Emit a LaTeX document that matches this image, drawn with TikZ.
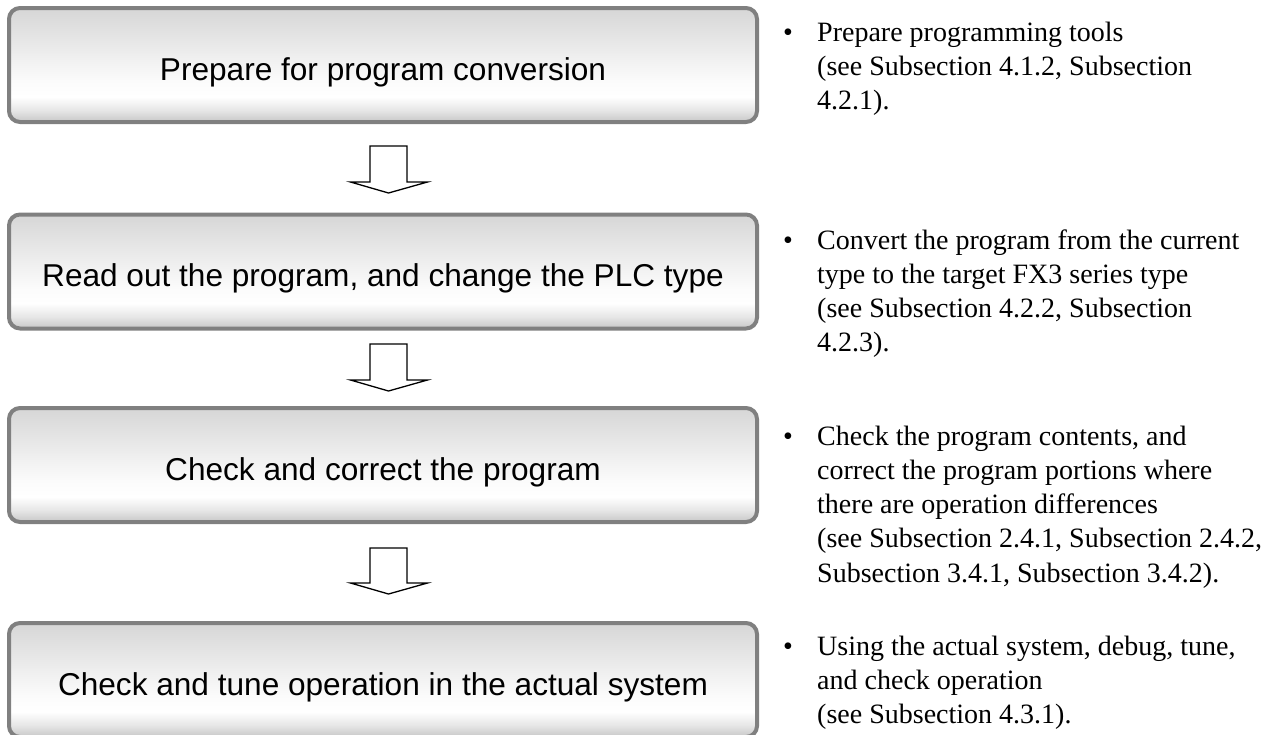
\documentclass[tikz,border=0pt]{standalone}
\usepackage{fontspec}
\setmainfont{Liberation Serif}
\newfontfamily\boxfont{Liberation Sans}
\usetikzlibrary{calc}
\definecolor{btnbot}{gray}{0.78}
\definecolor{btnlow}{gray}{0.90}
\definecolor{btnmid}{gray}{0.985}
\definecolor{btntop}{gray}{0.84}
\definecolor{btnborder}{gray}{0.50}
\pgfdeclareverticalshading{btn}{100bp}{color(0bp)=(btnbot); color(25bp)=(btnbot); color(30bp)=(btnlow); color(36bp)=(white); color(43bp)=(btnmid); color(75bp)=(btntop); color(100bp)=(btntop)}
\tikzset{
  stepbox/.style={draw=btnborder, line width=4pt, rounded corners=11pt, shading=btn,
    minimum width=748pt, minimum height=114pt, inner sep=0pt,
    text height=30pt, text depth=0pt,
    font=\boxfont\fontsize{31.6}{36}\selectfont},
  note/.style={anchor=base west, inner sep=0pt,
    font=\fontsize{28}{34.3}\selectfont},
  bulletmark/.style={anchor=base, inner sep=0pt, font=\fontsize{28}{34.3}\selectfont},
  hollowarrow/.style={draw=black, line width=1.3pt, fill=white, line join=miter}
}
\begin{document}
\begin{tikzpicture}[x=1pt, y=-1pt]
\useasboundingbox (0,0) rectangle (1276,734);
\node[stepbox] (b1) at (383,65) {Prepare for program conversion};
\node[stepbox] (b2) at (383,271.5) {Read out the program, and change the PLC type};
\node[stepbox] (b3) at (383,465) {Check and correct the program};
\node[stepbox] (b4) at (383,680) {Check and tune operation in the actual system};
% block arrows
\foreach \n/\t/\h/\p in {a1/146/182/193, a2/344/380/391, a3/548/583/594}{
  \coordinate (\n) at (388.5,\t);
  \draw[hollowarrow] (\n) ++(-18.5,0) -- ++(0,\h-\t) -- ++(-19.5,0) -- (388.5,\p)
     -- (427.5,\h) -- (407,\h) -- (407,\t) -- cycle;
}
% notes
\node[bulletmark] (d1) at (788,41) {•};
\node[note] (n1) at (817,41) {\vtop{\hbox{Prepare programming tools}\hbox{(see Subsection 4.1.2, Subsection}\hbox{4.2.1).}}};
\node[bulletmark] (d2) at (788,249) {•};
\node[note] (n2) at (817,249) {\vtop{\hbox{Convert the program from the current}\hbox{type to the target FX3 series type}\hbox{(see Subsection 4.2.2, Subsection}\hbox{4.2.3).}}};
\node[bulletmark] (d3) at (788,445) {•};
\node[note] (n3) at (817,445) {\vtop{\hbox{Check the program contents, and}\hbox{correct the program portions where}\hbox{there are operation differences}\hbox{(see Subsection 2.4.1, Subsection 2.4.2,}\hbox{Subsection 3.4.1, Subsection 3.4.2).}}};
\node[bulletmark] (d4) at (788,655) {•};
\node[note] (n4) at (817,655) {\vtop{\hbox{Using the actual system, debug, tune,}\hbox{and check operation}\hbox{(see Subsection 4.3.1).}}};
\end{tikzpicture}
\end{document}
